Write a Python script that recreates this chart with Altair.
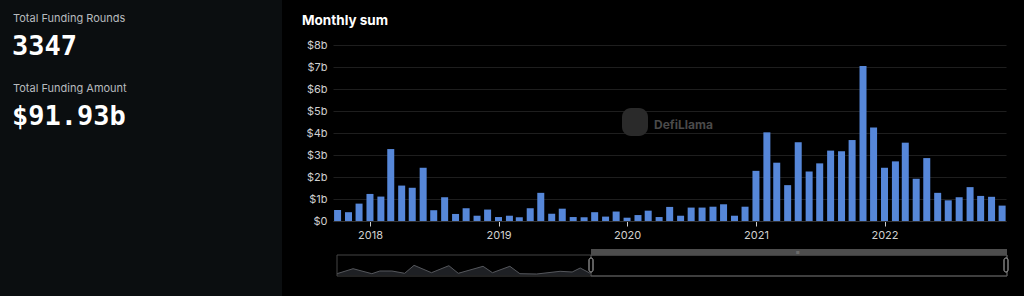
import altair as alt
import pandas as pd

# ---- data ----
months = pd.date_range("2017-10-01", "2022-12-01", freq="MS").strftime("%Y-%m-%d").tolist()
funding_b = [
    0.50, 0.40, 0.79, 1.23, 1.11, 3.27, 1.61, 1.51, 2.42, 0.49, 1.08, 0.32,
    0.58, 0.24, 0.52, 0.18, 0.24, 0.17, 0.58, 1.28, 0.33, 0.56, 0.18, 0.17,
    0.40, 0.20, 0.43, 0.15, 0.27, 0.47, 0.18, 0.64, 0.24, 0.61, 0.61, 0.65,
    0.76, 0.24, 0.65, 2.28, 4.03, 2.65, 1.63, 3.58, 2.25, 2.62, 3.20, 3.17,
    3.68, 7.05, 4.25, 2.42, 2.71, 3.56, 1.92, 2.86, 1.28, 0.94, 1.08, 1.54,
    1.14, 1.10, 0.70,
]
year_ticks = [2018, 2019, 2020, 2021, 2022]
y_ticks = [0, 1, 2, 3, 4, 5, 6, 7, 8]

# slider data-shadow (relative position along slider, height)
shadow_t = [0.0, 0.024, 0.052, 0.064, 0.082, 0.101, 0.115, 0.141, 0.167, 0.181,
            0.218, 0.232, 0.258, 0.273, 0.298, 0.333, 0.351, 0.363, 0.378]
shadow_v = [1.3, 6.3, 1.3, 4.0, 4.0, 1.7, 9.7, 2.3, 9.3, 1.7,
            8.7, 2.3, 8.7, 1.3, 1.0, 3.7, 3.0, 7.0, 1.7]

stats_labels = ["Total Funding Rounds", "Total Funding Amount"]
stats_values = ["3347", "$91.93b"]
title_text = "Monthly sum"

df = pd.DataFrame({"month": months, "value": funding_b})
shadow_df = pd.DataFrame({"t": shadow_t, "v": shadow_v})
one = pd.DataFrame({"a": [0]})

W, H = 673, 176
PL, PT = 333, 45

def px(x):  # page x -> plot x
    return x - PL

def py(y):
    return y - PT

# ---- left panel ----
left_bg = alt.Chart(one).mark_rect(color="#0b0e10").encode(
    x=alt.value(px(0)), x2=alt.value(px(282)), y=alt.value(py(0)), y2=alt.value(py(296))
)

def label(text, x, y, size, color, weight="normal", font="Inter"):
    return alt.Chart(one).mark_text(
        text=text, align="left", baseline="alphabetic", fontSize=size,
        color=color, fontWeight=weight, font=font
    ).encode(x=alt.value(px(x)), y=alt.value(py(y)))

t1 = label(stats_labels[0], 13, 22, 11, "#b8bbbf")
v1 = label(stats_values[0], 12, 55, 27, "#ffffff", "bold", "DejaVu Sans Mono")
t2 = label(stats_labels[1], 13, 92, 11, "#b8bbbf")
v2 = label(stats_values[1], 12, 125, 27, "#ffffff", "bold", "DejaVu Sans Mono")
title = label(title_text, 302, 25, 13.5, "#ffffff", "bold")

# watermark
logo = alt.Chart(one).mark_rect(color="#2a2a2a", cornerRadius=9).encode(
    x=alt.value(px(622)), x2=alt.value(px(648)), y=alt.value(py(108)), y2=alt.value(py(136))
)
wm = label("DefiLlama", 654, 129, 12, "#4a4a4a", "bold")

# ---- bars ----
bars = alt.Chart(df).mark_bar(color="#5687d9", width=7).encode(
    x=alt.X(
        "month:T",
        scale=alt.Scale(
            type="utc", nice=False, padding=0,
            domain=[alt.DateTime(year=2017, month=9, date=18, utc=True),
                    alt.DateTime(year=2022, month=12, date=12, utc=True)],
        ),
        axis=alt.Axis(
            title=None, grid=False, format="%Y",
            values=[alt.DateTime(year=y, month=1, date=1, utc=True) for y in year_ticks],
            domain=True, domainColor="#333333", ticks=True, tickColor="#cccccc",
            tickSize=5, labelPadding=3, labelColor="#d0d0d0", labelFontSize=11,
            labelFont="Inter",
        ),
    ),
    y=alt.Y(
        "value:Q",
        scale=alt.Scale(domain=[0, 8], nice=False),
        axis=alt.Axis(
            title=None, values=y_ticks, domain=False, ticks=False, labelPadding=6,
            labelExpr="datum.value == 0 ? '$0' : '$' + datum.value + 'b'",
            labelColor="#d0d0d0", labelFontSize=11, labelFont="Inter",
            grid=True, gridColor="#1e1e1e",
        ),
    ),
)

# ---- slider ----
S_L, S_R, S_T, S_B = 337, 1007, 255, 276
SEL = 591
slider_shadow = alt.Chart(shadow_df).mark_area(
    color="#2b2d33", line={"color": "#55575c", "strokeWidth": 1}
).encode(
    x=alt.X("t:Q", scale=alt.Scale(domain=[0, 1], range=[px(S_L), px(S_R)]), axis=None),
    y=alt.Y("v:Q", scale=alt.Scale(domain=[0, 10], range=[py(275), py(265)]), axis=None),
)
slider_box = alt.Chart(one).mark_rect(fill="transparent", stroke="#444444", strokeWidth=1).encode(
    x=alt.value(px(S_L)), x2=alt.value(px(S_R)), y=alt.value(py(S_T)), y2=alt.value(py(S_B))
)
sel_box = alt.Chart(one).mark_rect(fill="transparent", stroke="#5a5a5a", strokeWidth=1).encode(
    x=alt.value(px(SEL)), x2=alt.value(px(S_R)), y=alt.value(py(S_T)), y2=alt.value(py(S_B))
)
sel_bar = alt.Chart(one).mark_rect(color="#4d4d4d").encode(
    x=alt.value(px(SEL)), x2=alt.value(px(S_R)), y=alt.value(py(249)), y2=alt.value(py(255))
)
sel_grip = label("≡", (SEL + S_R) / 2 - 3, 255, 7, "#bbbbbb")
h1 = alt.Chart(one).mark_rect(fill="#000000", stroke="#bbbbbb", strokeWidth=1, cornerRadius=2).encode(
    x=alt.value(px(SEL - 2)), x2=alt.value(px(SEL + 2)), y=alt.value(py(258)), y2=alt.value(py(272))
)
h2 = alt.Chart(one).mark_rect(fill="#000000", stroke="#bbbbbb", strokeWidth=1, cornerRadius=2).encode(
    x=alt.value(px(S_R - 3)), x2=alt.value(px(S_R + 1)), y=alt.value(py(258)), y2=alt.value(py(272))
)

chart = alt.layer(
    left_bg, t1, v1, t2, v2, title, logo, wm, bars,
    slider_shadow, slider_box, sel_box, sel_bar, sel_grip, h1, h2,
).resolve_scale(x="independent", y="independent").properties(
    width=W, height=H,
    autosize=alt.AutoSizeParams(type="none"),
    padding={"left": PL, "top": PT, "right": 1024 - PL - W, "bottom": 296 - PT - H},
    background="#000000",
).configure_view(stroke=None)

chart.save("out.html", embed_options={"renderer": "svg", "actions": False})
